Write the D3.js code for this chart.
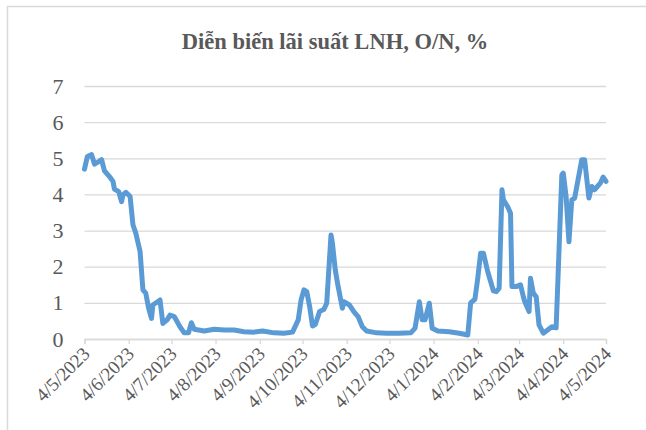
<!doctype html>
<html lang="vi">
  <head>
    <meta charset="utf-8">
    <title>Diễn biến lãi suất LNH, O/N</title>
    <script src="https://d3js.org/d3.v7.min.js"></script>
    <style>
      body { margin: 0; background: #fff; }
      text { font-family: "Liberation Serif", "Times New Roman", serif; fill: #595959; }
    </style>
  </head>

  <body>
    <svg width="646" height="430"></svg>

    <script>
      // ngày quan sát (yyyy-mm-dd) và lãi suất qua đêm, %
      var dates = [
        "2023-05-04","2023-05-06","2023-05-09","2023-05-11","2023-05-14","2023-05-16","2023-05-18","2023-05-22",
        "2023-05-24","2023-05-25","2023-05-28","2023-05-30","2023-05-31","2023-06-02","2023-06-05","2023-06-07",
        "2023-06-09","2023-06-12","2023-06-14","2023-06-16","2023-06-18","2023-06-20","2023-06-21","2023-06-26",
        "2023-06-28","2023-07-01","2023-07-03","2023-07-06","2023-07-10","2023-07-13","2023-07-16","2023-07-18",
        "2023-07-20","2023-07-27","2023-08-03","2023-08-10","2023-08-17","2023-08-24","2023-08-31","2023-09-06",
        "2023-09-14","2023-09-21","2023-09-27","2023-10-01","2023-10-03","2023-10-05","2023-10-07","2023-10-09",
        "2023-10-11","2023-10-13","2023-10-16","2023-10-19","2023-10-21","2023-10-24","2023-10-25","2023-10-27",
        "2023-10-29","2023-11-01","2023-11-02","2023-11-06","2023-11-09","2023-11-12","2023-11-15","2023-11-18",
        "2023-11-25","2023-12-02","2023-12-11","2023-12-19","2023-12-22","2023-12-25","2023-12-27","2023-12-29",
        "2024-01-01","2024-01-03","2024-01-07","2024-01-15","2024-01-22","2024-01-28","2024-01-30","2024-02-02",
        "2024-02-04","2024-02-06","2024-02-08","2024-02-11","2024-02-15","2024-02-17","2024-02-19","2024-02-21",
        "2024-02-22","2024-02-25","2024-02-27","2024-02-28","2024-03-02","2024-03-05","2024-03-07","2024-03-08",
        "2024-03-11","2024-03-12","2024-03-14","2024-03-16","2024-03-18","2024-03-21","2024-03-24","2024-03-27",
        "2024-03-30","2024-04-03","2024-04-04","2024-04-06","2024-04-08","2024-04-10","2024-04-12","2024-04-17",
        "2024-04-19","2024-04-22","2024-04-24","2024-04-26","2024-04-30","2024-05-02","2024-05-04"
      ];

      var rates = [
        4.70, 5.05, 5.10, 4.84, 4.91, 4.96, 4.65, 4.47,
        4.36, 4.15, 4.08, 3.80, 3.99, 4.06, 3.94, 3.16,
        2.93, 2.42, 1.36, 1.27, 0.85, 0.57, 0.94, 1.08,
        0.43, 0.53, 0.66, 0.62, 0.34, 0.17, 0.17, 0.45,
        0.27, 0.22, 0.27, 0.25, 0.25, 0.20, 0.19, 0.22,
        0.17, 0.16, 0.19, 0.53, 1.08, 1.36, 1.31, 0.90,
        0.36, 0.40, 0.76, 0.82, 0.99, 2.88, 2.65, 1.91,
        1.45, 0.85, 1.03, 0.94, 0.76, 0.62, 0.34, 0.22,
        0.17, 0.16, 0.16, 0.17, 0.30, 1.03, 0.53, 0.53,
        0.99, 0.30, 0.22, 0.20, 0.16, 0.11, 1.00, 1.10,
        1.68, 2.37, 2.37, 1.86, 1.33, 1.31, 1.40, 4.13,
        3.85, 3.66, 3.48, 1.45, 1.45, 1.50, 1.17, 1.03,
        0.76, 1.68, 1.27, 1.17, 0.39, 0.16, 0.25, 0.34,
        0.31, 4.54, 4.59, 3.94, 2.69, 3.85, 3.90, 4.96,
        4.96, 3.90, 4.22, 4.13, 4.31, 4.48, 4.36
      ];

      var tickDates = [
        "2023-05-04","2023-06-04","2023-07-04","2023-08-04","2023-09-04","2023-10-04","2023-11-04",
        "2023-12-04","2024-01-04","2024-02-04","2024-03-04","2024-04-04","2024-05-04"
      ];

      var yTicks = [0, 1, 2, 3, 4, 5, 6, 7];

      var title = "Diễn biến lãi suất LNH, O/N, %";

      var svg = d3.select('svg');
      var parse = d3.utcParse('%Y-%m-%d');
      var fmt = d3.utcFormat('%-d/%-m/%Y');

      var data = dates.map(function(d, i){ return { date: parse(d), val: rates[i] }; });
      var ticks = tickDates.map(parse);

      var x = d3.scaleUtc()
        .domain([ticks[0], ticks[ticks.length - 1]])
        .range([84.5, 606]);

      var y = d3.scaleLinear()
        .domain([0, 7])
        .range([339, 86]);

      // khung biểu đồ
      svg.append('rect')
        .attr('x', 7.5).attr('y', 6.5)
        .attr('width', 700).attr('height', 500)
        .attr('fill', 'none')
        .attr('stroke', '#d9d9d9')
        .attr('stroke-width', 1.5);

      svg.append('text')
        .attr('x', 335).attr('y', 49)
        .attr('text-anchor', 'middle')
        .style('font-size', '22.5px')
        .style('font-weight', 'bold')
        .text(title);

      // lưới ngang + nhãn trục y
      var yAxis = d3.axisLeft(y)
        .tickValues(yTicks)
        .tickSize(-(606 - 84.5))
        .tickPadding(21)
        .tickFormat(d3.format('d'));

      var gy = svg.append('g')
        .attr('transform', 'translate(84.5,0)')
        .call(yAxis);
      gy.select('.domain').remove();
      gy.selectAll('.tick line').attr('stroke', '#d9d9d9').attr('stroke-width', 1.3);
      gy.selectAll('.tick text')
        .style('font-size', '22px')
        .attr('fill', '#595959')
        .attr('font-family', null);

      // trục x
      var xAxis = d3.axisBottom(x)
        .tickValues(ticks)
        .tickSize(5)
        .tickFormat(fmt);

      var gx = svg.append('g')
        .attr('transform', 'translate(0,' + y(0) + ')')
        .call(xAxis);
      gx.select('.domain').attr('stroke', '#d9d9d9').attr('stroke-width', 1.3);
      gx.selectAll('.tick line').attr('stroke', '#d9d9d9').attr('stroke-width', 1.3);
      gx.selectAll('.tick text')
        .style('font-size', '19px')
        .attr('fill', '#595959')
        .attr('font-family', null)
        .attr('text-anchor', 'end')
        .attr('dy', null)
        .attr('y', 0)
        .attr('transform', 'translate(6,16) rotate(-45)');

      var line = d3.line()
        .x(function(d){ return x(d.date); })
        .y(function(d){ return y(d.val); });

      svg.append('path')
        .datum(data)
        .attr('d', line)
        .attr('fill', 'none')
        .attr('stroke', '#5b9bd5')
        .attr('stroke-width', 5)
        .attr('stroke-linejoin', 'round')
        .attr('stroke-linecap', 'round');
    </script>
  </body>
</html>
